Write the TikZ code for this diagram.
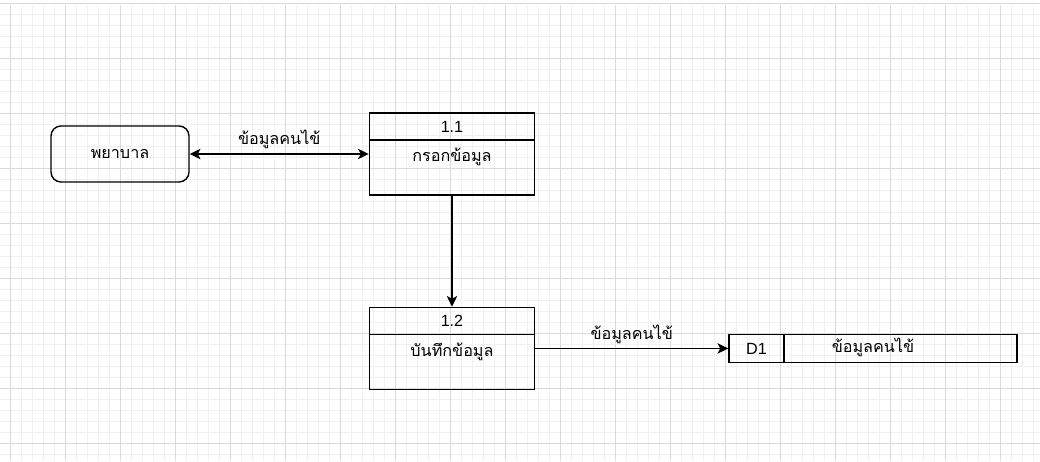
\documentclass[tikz,border=0pt]{standalone}
\usepackage{fontspec}
\setmainfont{Liberation Sans}
\newfontfamily\thaifont[Script=Thai]{Loma}
\usetikzlibrary{positioning,arrows.meta}
\newcommand{\dfdsize}{\fontsize{11.5}{13.5}\selectfont}
\definecolor{minorgrid}{HTML}{F1F1F1}
\definecolor{majorgrid}{HTML}{DADADA}
\tikzset{
  tip/.tip={Stealth[length=0.27cm,width=0.26cm,inset=0.07cm]},
  ent/.style={draw, rounded corners=0.25cm, line width=1pt, minimum width=3.45cm, minimum height=1.4cm, font=\dfdsize\thaifont},
  proc/.style={draw, line width=1pt, minimum width=4.125cm, minimum height=2.05cm},
  prochead/.style={draw, line width=1pt, minimum width=4.125cm, minimum height=0.675cm, inner sep=0pt, anchor=north, font=\dfdsize},
  store/.style={draw, line width=1pt, minimum width=7.2cm, minimum height=0.7cm},
  storeid/.style={draw, line width=1pt, minimum width=1.375cm, minimum height=0.7cm, inner sep=0pt, anchor=west, font=\dfdsize},
  thtext/.style={inner sep=1pt, font=\dfdsize\thaifont},
  flow/.style={line width=1pt, -tip},
  flowboth/.style={line width=1pt, tip-tip},
}

\begin{document}
\begin{tikzpicture}[x=0.025cm, y=-0.025cm]
  \useasboundingbox (0,0) rectangle (1040,461);
  % background grid
  \foreach \gx in {-1,10,...,1040} \draw[minorgrid, line width=0.6pt] (\gx,5) -- (\gx,461);
  \foreach \gy in {3,14,...,461} \draw[minorgrid, line width=0.6pt] (0,\gy) -- (1040,\gy);
  \foreach \gx in {10,65,...,1040} \draw[majorgrid, line width=0.6pt] (\gx,5) -- (\gx,461);
  \foreach \gy in {3,58,...,461} \draw[majorgrid, line width=0.6pt] (0,\gy) -- (1040,\gy);

  \node[ent] (nurse) at (120,154) {พยาบาล};
  \node[proc] (p11) [right=4.475cm of nurse] {};
  \node[prochead] (p11h) at (p11.north) {1.1};
  \node[thtext] (p11t) [below=0.15cm of p11h] {กรอกข้อมูล};
  \node[proc] (p12) [below=2.775cm of p11] {};
  \node[prochead] (p12h) at (p12.north) {1.2};
  \node[thtext] (p12t) [below=0.15cm of p12h] {บันทึกข้อมูล};
  \node[store] (d1) [right=4.825cm of p12] {};
  \node[storeid] (d1id) at (d1.west) {D1};
  \node[thtext] (d1t) at (873,347) {ข้อมูลคนไข้};

  \draw[flowboth] (nurse) -- (p11) node[thtext, midway, above=2pt] {ข้อมูลคนไข้};
  \draw[flow] (p11) -- (p12);
  \draw[flow] (p12) -- (d1) node[thtext, midway, above=2pt] {ข้อมูลคนไข้};
\end{tikzpicture}
\end{document}
